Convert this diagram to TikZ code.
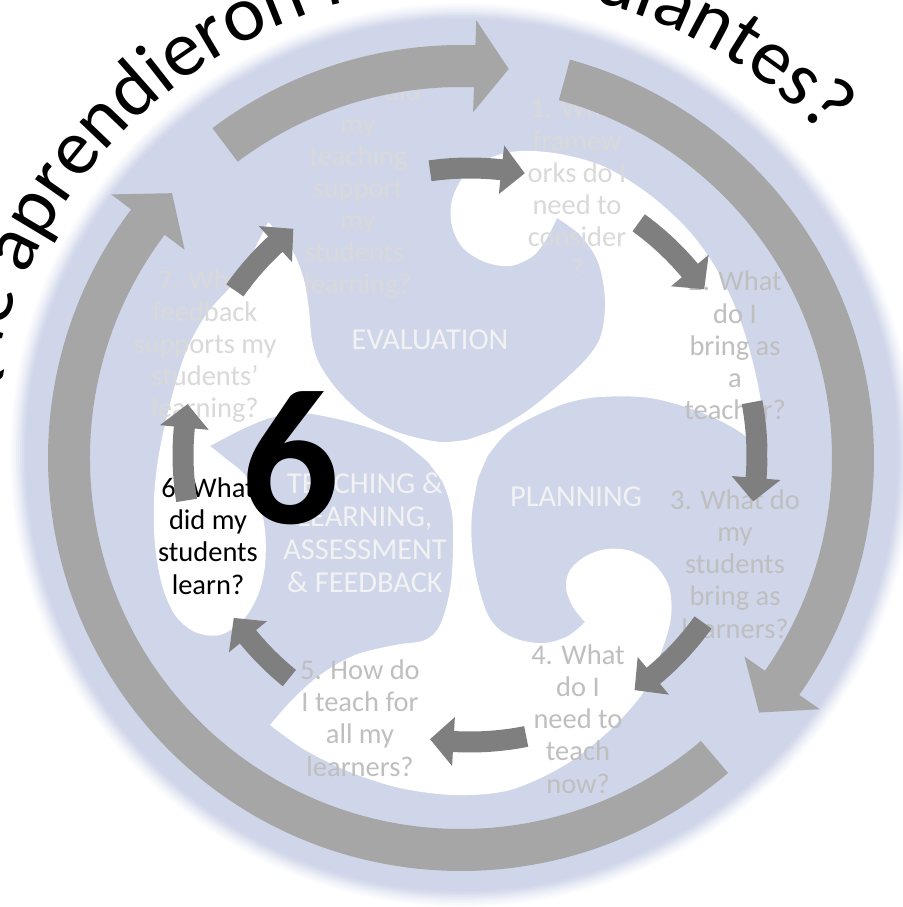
\documentclass[tikz,border=0pt]{standalone}
\usepackage{fontspec}
\setmainfont{Carlito}
\usetikzlibrary{decorations.text}
\definecolor{bluebg}{RGB}{207,214,233}
\definecolor{bigarr}{RGB}{166,166,166}
\definecolor{smallarr}{RGB}{127,127,127}
\definecolor{qlt}{RGB}{217,217,217}
\definecolor{qdk}{RGB}{191,191,191}
\definecolor{catc}{RGB}{242,242,242}
% #1 centre, #2 tail angle, #3 head-base angle, #4 tip angle, #5 mid radius, #6 shaft half width, #7 head half width, #8 colour
\newcommand\blockarc[8]{%
  \fill[#8, shift={#1}] ({#2}:{#5+#6}) arc[start angle={#2}, end angle={#3}, radius={#5+#6}]
    -- ({#3}:{#5+#7}) -- ({#4}:{#5}) -- ({#3}:{#5-#7}) -- ({#3}:{#5-#6})
    arc[start angle={#3}, end angle={#2}, radius={#5-#6}] -- cycle;}
\newcommand\titlefont{\fontsize{45}{50}\selectfont}
\begin{document}
\begin{tikzpicture}[x=0.02cm,y=0.02cm,
  qlight/.style={font=\fontsize{16.2}{18.3}\selectfont, text=qlt, align=center, inner sep=0pt},
  qdark/.style={qlight, text=qdk},
  qblack/.style={qlight, text=black},
  cat/.style={font=\fontsize{17.3}{18.7}\selectfont, text=catc, align=center, inner sep=0pt},
  gap/.style={fill=white},
  sm/.style={smooth, tension=0.55}
]
\useasboundingbox (0,-907) rectangle (903,0);
\clip (0,-907) rectangle (903,0);
% background disc with soft rim
\foreach \r/\p in {452/8, 450/16, 448/26, 446/38, 444/52, 442/66, 440/80, 438/92, 436/100}
  {\fill[bluebg!\p] (462,-455) circle (\r);}
% white triskele gaps: upper right arm
\fill[gap] plot[sm] coordinates {(467,-440) (493,-431) (527,-411) (560,-384) (587,-358) (601,-335) (605,-300) (598,-262) (580,-235) (557,-218)}
  -- plot[sm] coordinates {(557,-218) (547,-238) (533,-256) (510,-266) (485,-262) (463,-248) (452,-226) (452,-200) (465,-175) (490,-158) (520,-151) (560,-154) (605,-167) (650,-195) (690,-232) (720,-275) (742,-325) (757,-380) (765,-430) (768,-458)}
  -- plot[sm] coordinates {(768,-458) (740,-432) (700,-412) (650,-398) (600,-397) (567,-403) (533,-417) (507,-433) (487,-457) (478,-478)} -- cycle;
% lower arm
\fill[gap] plot[sm] coordinates {(478,-478) (472,-513) (472,-547) (477,-580) (487,-613) (500,-630) (520,-640) (545,-643) (568,-636) (585,-622)}
  -- plot[sm] coordinates {(585,-622) (573,-607) (566,-588) (570,-570) (586,-556) (607,-549) (631,-551) (654,-564) (669,-587) (671,-617) (662,-650) (645,-690) (610,-730) (565,-765) (510,-790) (455,-795) (400,-788) (350,-772) (305,-750) (270,-725)}
  -- plot[sm] coordinates {(270,-725) (292,-700) (320,-675) (355,-655) (395,-645) (425,-640) (440,-625) (450,-590) (453,-550) (452,-513) (443,-483) (428,-462)} -- cycle;
% left arm
\fill[gap] plot[sm] coordinates {(428,-462) (400,-440) (367,-427) (333,-418) (300,-413) (270,-418) (245,-428) (225,-438) (210,-446)}
  -- plot[sm] coordinates {(210,-446) (225,-458) (245,-475) (258,-500) (265,-530) (265,-565) (258,-595) (243,-620) (220,-635) (195,-632) (175,-615) (162,-585) (155,-545) (154,-500) (158,-460) (166,-420) (176,-382) (188,-347) (208,-312) (240,-275) (268,-222)}
  -- plot[sm] coordinates {(268,-222) (292,-250) (304,-280) (309,-310) (312,-340) (320,-365) (340,-393) (367,-417) (400,-433) (440,-442) (467,-440)} -- cycle;
% centre junction
\fill[gap] (428,-462) -- (440,-443) -- (467,-440) -- (493,-431) -- (487,-457) -- (478,-478) -- (447,-487) -- cycle;
% title along arc
\path[shift={(472,-475)}, decorate, decoration={text along path, text align=left,
  text={|\titlefont|¿Qué aprendieron mis estudiantes?}}]
  (178:489) arc[start angle=178, end angle=-20, radius=489];
% stage labels
\node[cat] (eval) at (430,-340) {EVALUATION};
\node[cat] (plan) at (576,-497) {PLANNING};
\node[cat] (teach) at (365,-533) {TEACHING \&\\LEARNING,\\ASSESSMENT\\\& FEEDBACK};
% questions
\node[qlight] (q1) at (577,-188.5) {1. What\\framew\\orks do I\\need to\\consider\\?};
\node[qdark] (q2) at (735,-345.5) {2. What\\do I\\bring as\\a\\teacher?};
\node[qdark] (q3) at (735,-564) {3. What do\\my\\students\\bring as\\learners?};
\node[qdark] (q4) at (578,-719) {4. What\\do I\\need to\\teach\\now?};
\node[qdark] (q5) at (360,-718) {5. How do\\I teach for\\all my\\learners?};
\node[qblack] (q6) at (208,-536) {6. What\\did my\\students\\learn?};
\node[qlight] (q7) at (205,-346) {7. What\\feedback\\supports my\\students’\\learning?};
\node[qlight] (q8) at (358,-190) {8. How did\\my\\teaching\\support\\my\\students’\\learning?};
% big outer arrows
\blockarc{(461,-458)}{127}{88}{83}{392}{21}{46}{bigarr}
\blockarc{(461,-458)}{74.7}{-35}{-40.5}{392}{21}{46}{bigarr}
\blockarc{(461,-458)}{-49.7}{-217}{-222.5}{392}{21}{46}{bigarr}
% small inner arrows
\blockarc{(470,-455)}{98}{83.7}{79}{287}{10.5}{24.5}{smallarr}
\blockarc{(470,-455)}{54}{40}{35.3}{287}{10.5}{24.5}{smallarr}
\blockarc{(470,-455)}{10.6}{-4.6}{-9.3}{287}{10.5}{24.5}{smallarr}
\blockarc{(470,-455)}{-35.7}{-50.3}{-55}{287}{10.5}{24.5}{smallarr}
\blockarc{(470,-455)}{-78.7}{-93.3}{-98}{287}{10.5}{24.5}{smallarr}
\blockarc{(470,-455)}{-129}{-140.7}{-145.4}{287}{10.5}{24.5}{smallarr}
\blockarc{(470,-455)}{-170.9}{-185.5}{-190.2}{287}{10.5}{24.5}{smallarr}
\blockarc{(470,-455)}{145}{132.7}{128}{287}{10.5}{24.5}{smallarr}
% big number
\node[font=\fontsize{110}{110}\selectfont\bfseries, text=black, inner sep=0pt] (six) at (290,-458) {6};
\end{tikzpicture}
\end{document}
